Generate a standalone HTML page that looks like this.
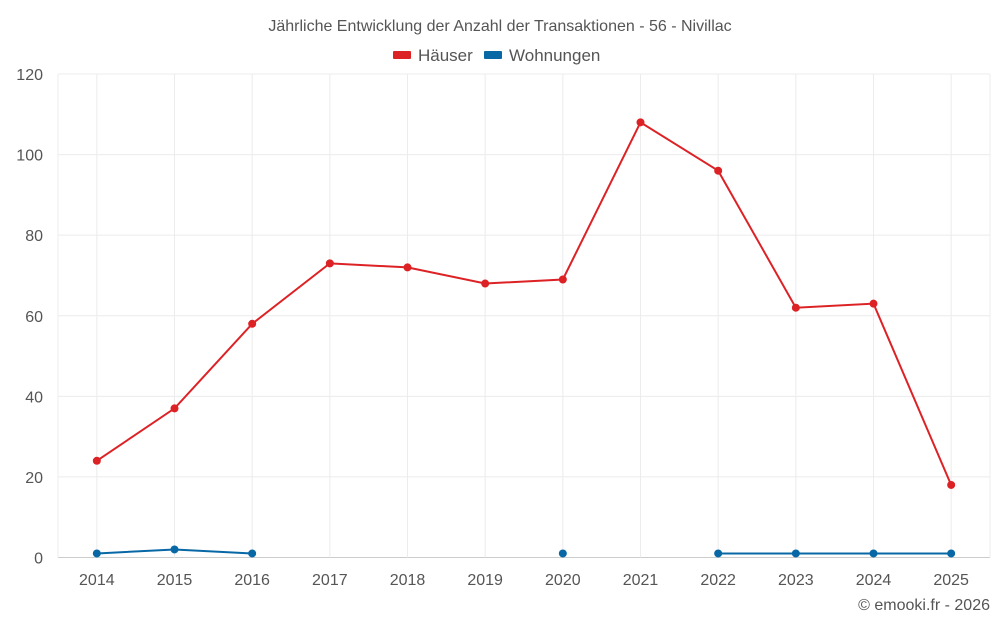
<!DOCTYPE html>
<html><head><meta charset="utf-8"><style>
body{margin:0;background:#fff;font-family:"Liberation Sans",Roboto,sans-serif;}
svg text{font-family:"Liberation Sans",sans-serif;fill:#555;}
</style></head><body>
<svg id="c" width="1000" height="625" xmlns="http://www.w3.org/2000/svg">
<text x="500" y="31" text-anchor="middle" font-size="16">Jährliche Entwicklung der Anzahl der Transaktionen - 56 - Nivillac</text>
<g>
<rect x="393" y="51" width="18" height="8" rx="1" fill="#dd2226"/>
<text x="418" y="61" font-size="17">Häuser</text>
<rect x="484" y="51" width="18" height="8" rx="1" fill="#0868a6"/>
<text x="509" y="61" font-size="17">Wohnungen</text>
</g>
<g id="grid"></g><g id="axes"></g><g id="series"></g>
<text x="990" y="610" text-anchor="end" font-size="16">© emooki.fr - 2026</text>
</svg>
<script>
const categories=[2014,2015,2016,2017,2018,2019,2020,2021,2022,2023,2024,2025];
const haeuser=[24,37,58,73,72,68,69,108,96,62,63,18];
const wohnungen=[1,2,1,null,null,null,1,null,1,1,1,1];
const yTicks=[0,20,40,60,80,100,120];
const NS="http://www.w3.org/2000/svg";
const L=58,R=990,T=74,B=557.5,YMAX=120;
const bw=(R-L)/categories.length;
const x=i=>L+bw*(i+0.5);
const y=v=>B-(v/YMAX)*(B-T);
function mk(t,a,p){const e=document.createElementNS(NS,t);for(const k in a)e.setAttribute(k,a[k]);p.appendChild(e);return e;}
const grid=document.getElementById('grid'),axes=document.getElementById('axes'),ser=document.getElementById('series');
yTicks.forEach(v=>{
 const l=mk('line',{x1:L,x2:R,y1:y(v),y2:y(v),stroke:v===0?'#ccc':'#ececec','stroke-width':1},grid);
 
 
 const t=mk('text',{x:43,y:y(v)+6,'text-anchor':'end','font-size':16},axes);t.textContent=v;
 
 
});
[L,R].forEach(px=>{
 const l=mk('line',{x1:px,x2:px,y1:T,y2:B,stroke:'#ececec','stroke-width':1},grid);
 
 
});
categories.forEach((c,i)=>{
 const l=mk('line',{x1:x(i),x2:x(i),y1:T,y2:B,stroke:'#ececec','stroke-width':1},grid);
 
 
 const t=mk('text',{x:x(i),y:585,'text-anchor':'middle','font-size':16},axes);t.textContent=c;
 
 
});
function draw(vals,color,name){
 let d='',pen=false;
 vals.forEach((v,i)=>{if(v==null){pen=false;return;}d+=(pen?'L':'M')+x(i)+' '+y(v)+' ';pen=true;});
 const p=mk('path',{d:d,fill:'none',stroke:color,'stroke-width':2},ser);
 
 
 vals.forEach((v,i)=>{if(v==null)return;
  const c=mk('circle',{cx:x(i),cy:y(v),r:4,fill:color},ser);
  
  
 });
}
draw(haeuser,'#dd2226','haeuser');
draw(wohnungen,'#0868a6','wohnungen');
</script>
</body></html>
